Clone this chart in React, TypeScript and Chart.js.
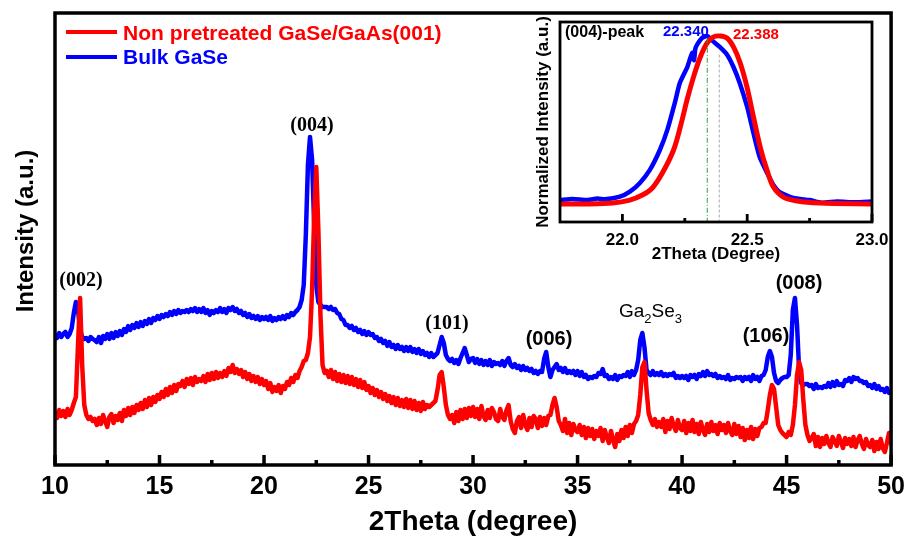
import React, { useEffect, useRef } from "react";
import { Chart, registerables } from "chart.js";
Chart.register(...registerables);

const SANS = '"Liberation Sans", Arial, sans-serif';
const SERIF = '"Liberation Serif", "Times New Roman", serif';

// ---- main chart data (sampled every 0.1 degree from 10 to 50) ----
const SERIES_LABELS = ["Non pretreated GaSe/GaAs(001)", "Bulk GaSe"];
const THETA_START = 10;
const THETA_STEP = 0.1;

const RED_FILM = [
  52, 47, 55, 49, 54, 48, 56, 50, 55, 62,
  68, 120, 167, 100, 60, 50, 46, 48, 44, 46,
  40, 47, 41, 50, 44, 38, 48, 51, 42, 49,
  45, 52, 44, 55, 49, 57, 50, 58, 52, 60,
  55, 62, 56, 65, 58, 67, 60, 68, 63, 70,
  66, 73, 68, 76, 70, 78, 72, 80, 74, 81,
  79, 84, 78, 86, 81, 87, 80, 88, 83, 86,
  84, 89, 83, 91, 85, 92, 86, 93, 87, 92,
  88, 94, 89, 97, 93, 100, 92, 96, 91, 95,
  88, 93, 86, 91, 84, 89, 83, 88, 81, 86,
  80, 84, 76, 82, 73, 78, 74, 80, 72, 79,
  76, 83, 80, 87, 83, 90, 87, 94, 98, 104,
  105, 112, 128, 175, 250, 298, 235, 150, 100, 92,
  94, 88, 95, 86, 93, 84, 91, 83, 90, 82,
  89, 81, 88, 80, 86, 78, 85, 77, 83, 75,
  79, 72, 77, 70, 75, 68, 73, 66, 71, 64,
  69, 62, 68, 60, 67, 59, 65, 58, 66, 57,
  65, 56, 64, 55, 62, 54, 63, 56, 60, 58,
  60, 62, 64, 75, 90, 93, 78, 60, 50, 46,
  50, 42, 53, 44, 55, 46, 56, 47, 57, 49,
  58, 48, 56, 46, 59, 49, 45, 55, 47, 57,
  53, 46, 44, 56, 48, 45, 55, 60, 44, 36,
  32, 44, 48, 37, 50, 40, 35, 47, 38, 49,
  46, 37, 48, 39, 47, 40, 49, 50, 60, 67,
  58, 44, 40, 34, 46, 32, 42, 30, 41, 35,
  33, 40, 30, 38, 27, 37, 29, 36, 26, 34,
  29, 37, 24, 35, 28, 22, 34, 25, 18, 31,
  24, 35, 27, 38, 29, 40, 32, 41, 44, 50,
  70, 98, 103, 75, 52, 45, 40, 46, 38, 43,
  38, 46, 33, 44, 36, 47, 39, 34, 45, 37,
  35, 44, 32, 42, 34, 45, 33, 41, 31, 43,
  35, 30, 41, 33, 43, 34, 40, 31, 42, 35,
  40, 32, 42, 34, 30, 41, 31, 39, 28, 37,
  25, 35, 27, 38, 26, 36, 29, 37, 38, 42,
  42, 55, 70, 80, 76, 58, 40, 35, 32, 30,
  28, 33, 30, 40, 60, 90, 103, 95, 65, 40,
  30, 24, 27, 31, 19, 28, 18, 27, 21, 29,
  22, 18, 28, 24, 19, 29, 23, 17, 27, 21,
  26, 19, 28, 18, 25, 29, 21, 16, 26, 20,
  18, 25, 14, 23, 16, 26, 17, 13, 22, 32,
  22,
];

const BLUE_BULK = [
  130, 127, 132, 128, 131, 133, 128, 131, 137, 152,
  163, 155, 135, 128, 126, 127, 124, 128, 126, 125,
  123, 128, 122, 129, 126, 131, 126, 132, 127, 133,
  129, 134, 130, 136, 133, 139, 135, 140, 137, 142,
  138, 143, 139, 144, 141, 146, 142, 147, 145, 149,
  146, 150, 148, 151, 149, 153, 150, 154, 151, 155,
  152, 154, 153, 155, 153, 156, 154, 157, 153, 156,
  153, 157, 152, 155, 150, 154, 152, 155, 153, 157,
  153, 156, 152, 157, 155, 158, 154, 156, 152, 154,
  150, 152, 148, 151, 147, 149, 146, 149, 145, 148,
  146, 148, 145, 149, 144, 147, 145, 148, 146, 149,
  146, 150, 148, 152, 150, 153, 155, 158, 165, 180,
  230, 300, 328, 305, 240, 180, 163, 160, 158, 158,
  158, 156, 158, 155, 156, 152, 151, 146, 145, 140,
  140, 137, 139, 135, 137, 133, 135, 131, 134, 130,
  133, 130, 131, 127, 128, 124, 126, 122, 124, 119,
  123, 118, 120, 116, 120, 116, 118, 114, 118, 114,
  118, 113, 116, 112, 116, 111, 114, 110, 112, 108,
  112, 108, 110, 112, 120, 128, 122, 110, 106, 104,
  106, 102, 105, 101, 107, 112, 117, 110, 103, 106,
  107, 102, 106, 101, 105, 100, 104, 100, 105, 99,
  103, 101, 102, 100, 104, 99, 104, 107, 100, 98,
  101, 97, 99, 95, 99, 95, 97, 94, 96, 92,
  94, 91, 94, 93, 106, 113, 98, 88, 95, 98,
  101, 95, 97, 93, 97, 92, 94, 92, 94, 90,
  94, 89, 93, 88, 90, 86, 88, 87, 89, 88,
  92, 91, 96, 89, 90, 86, 88, 86, 90, 85,
  89, 88, 90, 89, 93, 88, 94, 90, 95, 105,
  125, 132, 118, 95, 92, 90, 94, 90, 92, 90,
  93, 89, 91, 89, 91, 90, 92, 87, 89, 87,
  89, 87, 89, 85, 90, 88, 90, 86, 91, 89,
  93, 89, 94, 90, 91, 89, 91, 87, 89, 87,
  88, 86, 90, 85, 87, 86, 88, 87, 88, 84,
  88, 86, 88, 84, 90, 86, 88, 84, 89, 90,
  95, 108, 114, 108, 92, 84, 82, 85, 87, 88,
  88, 90, 110, 155, 167, 140, 95, 82, 80, 81,
  81, 79, 80, 76, 81, 77, 78, 77, 79, 78,
  82, 78, 83, 79, 84, 80, 81, 79, 85, 84,
  87, 83, 88, 86, 87, 84, 84, 82, 83, 79,
  80, 77, 81, 76, 79, 75, 76, 73, 77, 72,
  73,
];

const X_TICKS = [10, 15, 20, 25, 30, 35, 40, 45, 50];
const X_MINOR = [12.5, 17.5, 22.5, 27.5, 32.5, 37.5, 42.5, 47.5];
const X_TITLE = "2Theta (degree)";
const Y_TITLE = "Intensity (a.u.)";

// ---- inset data: normalized (004) peak ----
const INSET_BLUE_X = [21.75, 21.8, 21.86, 21.9, 21.93, 21.99, 22.03, 22.07, 22.11, 22.15, 22.18, 22.21, 22.23, 22.26, 22.28, 22.287, 22.292, 22.3, 22.32, 22.34, 22.36, 22.39, 22.42, 22.445, 22.47, 22.5, 22.525, 22.55, 22.58, 22.605, 22.63, 22.685, 22.75, 22.8, 22.86, 22.93, 23.0];
const INSET_BLUE_Y = [0.118, 0.124, 0.118, 0.126, 0.122, 0.136, 0.163, 0.21, 0.28, 0.387, 0.495, 0.64, 0.747, 0.833, 0.909, 0.87, 0.93, 0.955, 0.99, 1.0, 0.975, 0.941, 0.898, 0.833, 0.747, 0.618, 0.478, 0.349, 0.263, 0.199, 0.161, 0.129, 0.118, 0.104, 0.11, 0.106, 0.11];
const INSET_RED_X = [21.75, 21.86, 21.96, 22.03, 22.08, 22.12, 22.16, 22.205, 22.232, 22.259, 22.285, 22.312, 22.339, 22.365, 22.392, 22.419, 22.445, 22.472, 22.499, 22.525, 22.552, 22.579, 22.605, 22.645, 22.7, 22.79, 23.0];
const INSET_RED_Y = [0.097, 0.097, 0.102, 0.118, 0.145, 0.183, 0.263, 0.387, 0.511, 0.656, 0.78, 0.887, 0.962, 0.995, 1.0, 0.989, 0.941, 0.855, 0.726, 0.565, 0.403, 0.28, 0.188, 0.134, 0.113, 0.102, 0.097];
const INSET_TICKS = [22.0, 22.5, 23.0];
const INSET_MINOR = [22.25, 22.75];
const PEAK_BLUE = 22.34;
const PEAK_RED = 22.388;

const RED = "#ff0000";
const BLUE = "#0000ff";

function txt(ctx: CanvasRenderingContext2D, s: string, x: number, y: number, font: string, color: string, align: CanvasTextAlign = "left") {
  ctx.font = font;
  ctx.fillStyle = color;
  ctx.textAlign = align;
  ctx.textBaseline = "alphabetic";
  ctx.fillText(s, x, y);
}

const mainDecor = {
  id: "mainDecor",
  afterDraw(chart: any) {
    const { ctx, chartArea: a, scales } = chart;
    const x = scales.x;
    ctx.save();
    ctx.strokeStyle = "#000";
    ctx.lineWidth = 3.5;
    ctx.strokeRect(a.left, a.top, a.right - a.left, a.bottom - a.top);
    ctx.lineWidth = 3.5;
    ctx.beginPath();
    for (const v of X_TICKS) {
      const px = x.getPixelForValue(v);
      ctx.moveTo(px, a.bottom);
      ctx.lineTo(px, a.bottom - 10);
    }
    for (const v of X_MINOR) {
      const px = x.getPixelForValue(v);
      ctx.moveTo(px, a.bottom);
      ctx.lineTo(px, a.bottom - 5);
    }
    ctx.stroke();

    // legend
    ctx.lineWidth = 4;
    ctx.strokeStyle = RED;
    ctx.beginPath();
    ctx.moveTo(66, 32);
    ctx.lineTo(117, 32);
    ctx.stroke();
    ctx.strokeStyle = BLUE;
    ctx.beginPath();
    ctx.moveTo(66, 57);
    ctx.lineTo(117, 57);
    ctx.stroke();
    txt(ctx, SERIES_LABELS[0], 123, 40, `bold 21px ${SANS}`, RED);
    txt(ctx, SERIES_LABELS[1], 123, 64, `bold 21px ${SANS}`, BLUE);

    // y title
    ctx.save();
    ctx.translate(33, 231);
    ctx.rotate(-Math.PI / 2);
    txt(ctx, Y_TITLE, 0, 0, `bold 24px ${SANS}`, "#000", "center");
    ctx.restore();

    // peak labels
    txt(ctx, "(002)", 81, 286, `bold 20px ${SERIF}`, "#000", "center");
    txt(ctx, "(004)", 312, 131, `bold 20px ${SERIF}`, "#000", "center");
    txt(ctx, "(101)", 447, 329, `bold 20px ${SERIF}`, "#000", "center");
    txt(ctx, "(006)", 549, 345, `bold 20px ${SANS}`, "#000", "center");
    txt(ctx, "(106)", 766, 342, `bold 20px ${SANS}`, "#000", "center");
    txt(ctx, "(008)", 799, 289, `bold 20px ${SANS}`, "#000", "center");
    // Ga2Se3 with subscripts
    let gx = 619;
    const big = `19px ${SANS}`;
    const small = `13px ${SANS}`;
    const parts: [string, boolean][] = [["Ga", false], ["2", true], ["Se", false], ["3", true]];
    for (const [s, sub] of parts) {
      ctx.font = sub ? small : big;
      txt(ctx, s, gx, sub ? 323 : 317, sub ? small : big, "#000");
      gx += ctx.measureText(s).width;
    }
    ctx.restore();
  },
};

const insetDecor = {
  id: "insetDecor",
  afterDraw(chart: any) {
    const { ctx, chartArea: a, scales } = chart;
    const x = scales.x;
    const y = scales.y;
    ctx.save();
    // reference lines
    ctx.lineWidth = 1;
    ctx.strokeStyle = "#2f9e3a";
    ctx.setLineDash([5, 2, 1, 2]);
    ctx.beginPath();
    ctx.moveTo(x.getPixelForValue(PEAK_BLUE), y.getPixelForValue(0.99));
    ctx.lineTo(x.getPixelForValue(PEAK_BLUE), a.bottom);
    ctx.stroke();
    ctx.strokeStyle = "#a8a8a8";
    ctx.setLineDash([3, 2]);
    ctx.beginPath();
    ctx.moveTo(x.getPixelForValue(PEAK_RED), y.getPixelForValue(0.9));
    ctx.lineTo(x.getPixelForValue(PEAK_RED), a.bottom);
    ctx.stroke();
    ctx.setLineDash([]);

    ctx.strokeStyle = "#000";
    ctx.lineWidth = 2.8;
    ctx.strokeRect(a.left, a.top, a.right - a.left, a.bottom - a.top);
    ctx.lineWidth = 2.8;
    ctx.beginPath();
    for (const v of INSET_TICKS) {
      const px = x.getPixelForValue(v);
      ctx.moveTo(px, a.bottom);
      ctx.lineTo(px, a.bottom - 8);
    }
    for (const v of INSET_MINOR) {
      const px = x.getPixelForValue(v);
      ctx.moveTo(px, a.bottom);
      ctx.lineTo(px, a.bottom - 4);
    }
    ctx.stroke();

    txt(ctx, "(004)-peak", 45, 37, `bold 16px ${SANS}`, "#000");
    txt(ctx, PEAK_BLUE.toFixed(3), 143, 36, `bold 15px ${SANS}`, BLUE);
    txt(ctx, PEAK_RED.toFixed(3), 213, 39, `bold 15px ${SANS}`, RED);

    ctx.save();
    ctx.translate(28, 122);
    ctx.rotate(-Math.PI / 2);
    txt(ctx, "Normalized Intensity (a.u.)", 0, 0, `bold 17px ${SANS}`, "#000", "center");
    ctx.restore();
    ctx.restore();
  },
};

export default function App() {
  const mainRef = useRef<HTMLCanvasElement>(null);
  const insetRef = useRef<HTMLCanvasElement>(null);

  useEffect(() => {
    const theta = RED_FILM.map((_, i) => Math.round((THETA_START + i * THETA_STEP) * 10) / 10);
    const main = new Chart(mainRef.current as HTMLCanvasElement, {
      type: "line",
      data: {
        datasets: [
          {
            label: SERIES_LABELS[0],
            data: theta.map((t, i) => ({ x: t, y: RED_FILM[i] })),
            borderColor: RED,
            backgroundColor: RED,
            borderWidth: 4.5,
            pointRadius: 0,
            tension: 0,
            borderJoinStyle: "round",
            borderCapStyle: "round",
          },
          {
            label: SERIES_LABELS[1],
            data: theta.map((t, i) => ({ x: t, y: BLUE_BULK[i] })),
            borderColor: BLUE,
            backgroundColor: BLUE,
            borderWidth: 4.5,
            pointRadius: 0,
            tension: 0,
            borderJoinStyle: "round",
            borderCapStyle: "round",
          },
        ],
      },
      options: {
        animation: false,
        responsive: false,
        devicePixelRatio: 1,
        layout: { padding: { left: 55, right: 17, top: 13, bottom: 0 } },
        plugins: { legend: { display: false }, tooltip: { enabled: false } },
        scales: {
          x: {
            type: "linear",
            min: 10,
            max: 50,
            afterBuildTicks: (s: any) => {
              s.ticks = X_TICKS.map((v) => ({ value: v }));
            },
            afterFit: (s: any) => {
              s.height = 72;
            },
            grid: { display: false, drawTicks: false },
            border: { display: false },
            ticks: {
              color: "#000",
              autoSkip: false,
              maxRotation: 0,
              padding: 7,
              font: { family: SANS, size: 25, weight: "bold", lineHeight: 1.2 },
              callback: (v: any) => String(v),
            },
            title: {
              display: true,
              text: X_TITLE,
              color: "#000",
              font: { family: SANS, size: 28, weight: "bold", lineHeight: 1 },
              padding: { top: 0, bottom: 1 },
            },
          },
          y: { display: false, min: 0, max: 452 },
        },
      },
      plugins: [mainDecor],
    } as any);

    const inset = new Chart(insetRef.current as HTMLCanvasElement, {
      type: "line",
      data: {
        datasets: [
          {
            label: SERIES_LABELS[0],
            data: INSET_RED_X.map((t, i) => ({ x: t, y: INSET_RED_Y[i] })),
            borderColor: RED,
            borderWidth: 5,
            pointRadius: 0,
            tension: 0.3,
            borderJoinStyle: "round",
          },
          {
            label: SERIES_LABELS[1],
            data: INSET_BLUE_X.map((t, i) => ({ x: t, y: INSET_BLUE_Y[i] })),
            borderColor: BLUE,
            borderWidth: 4.5,
            pointRadius: 0,
            tension: 0.2,
            borderJoinStyle: "round",
          },
        ],
      },
      options: {
        animation: false,
        responsive: false,
        devicePixelRatio: 1,
        layout: { padding: { left: 40, right: 33, top: 22, bottom: 0 } },
        plugins: { legend: { display: false }, tooltip: { enabled: false } },
        scales: {
          x: {
            type: "linear",
            min: 21.75,
            max: 23.0,
            afterBuildTicks: (s: any) => {
              s.ticks = INSET_TICKS.map((v) => ({ value: v }));
            },
            afterFit: (s: any) => {
              s.height = 43;
            },
            grid: { display: false, drawTicks: false },
            border: { display: false },
            ticks: {
              color: "#000",
              autoSkip: false,
              maxRotation: 0,
              padding: 8,
              font: { family: SANS, size: 17, weight: "bold", lineHeight: 1.2 },
              callback: (v: any) => Number(v).toFixed(1),
            },
            title: {
              display: true,
              text: "2Theta (Degree)",
              color: "#000",
              font: { family: SANS, size: 17, weight: "bold", lineHeight: 1 },
              padding: { top: 0, bottom: 2 },
            },
          },
          y: { display: false, min: 0, max: 1.075 },
        },
      },
      plugins: [insetDecor],
    } as any);

    return () => {
      main.destroy();
      inset.destroy();
    };
  }, []);

  return (
    <div style={{ position: "fixed", left: 0, top: 0, width: 912, height: 537, background: "#fff" }}>
      <canvas ref={mainRef} width={912} height={537} style={{ position: "absolute", left: 0, top: 0, width: 912, height: 537 }} />
      <canvas ref={insetRef} width={385} height={265} style={{ position: "absolute", left: 520, top: 0, width: 385, height: 265 }} />
    </div>
  );
}
